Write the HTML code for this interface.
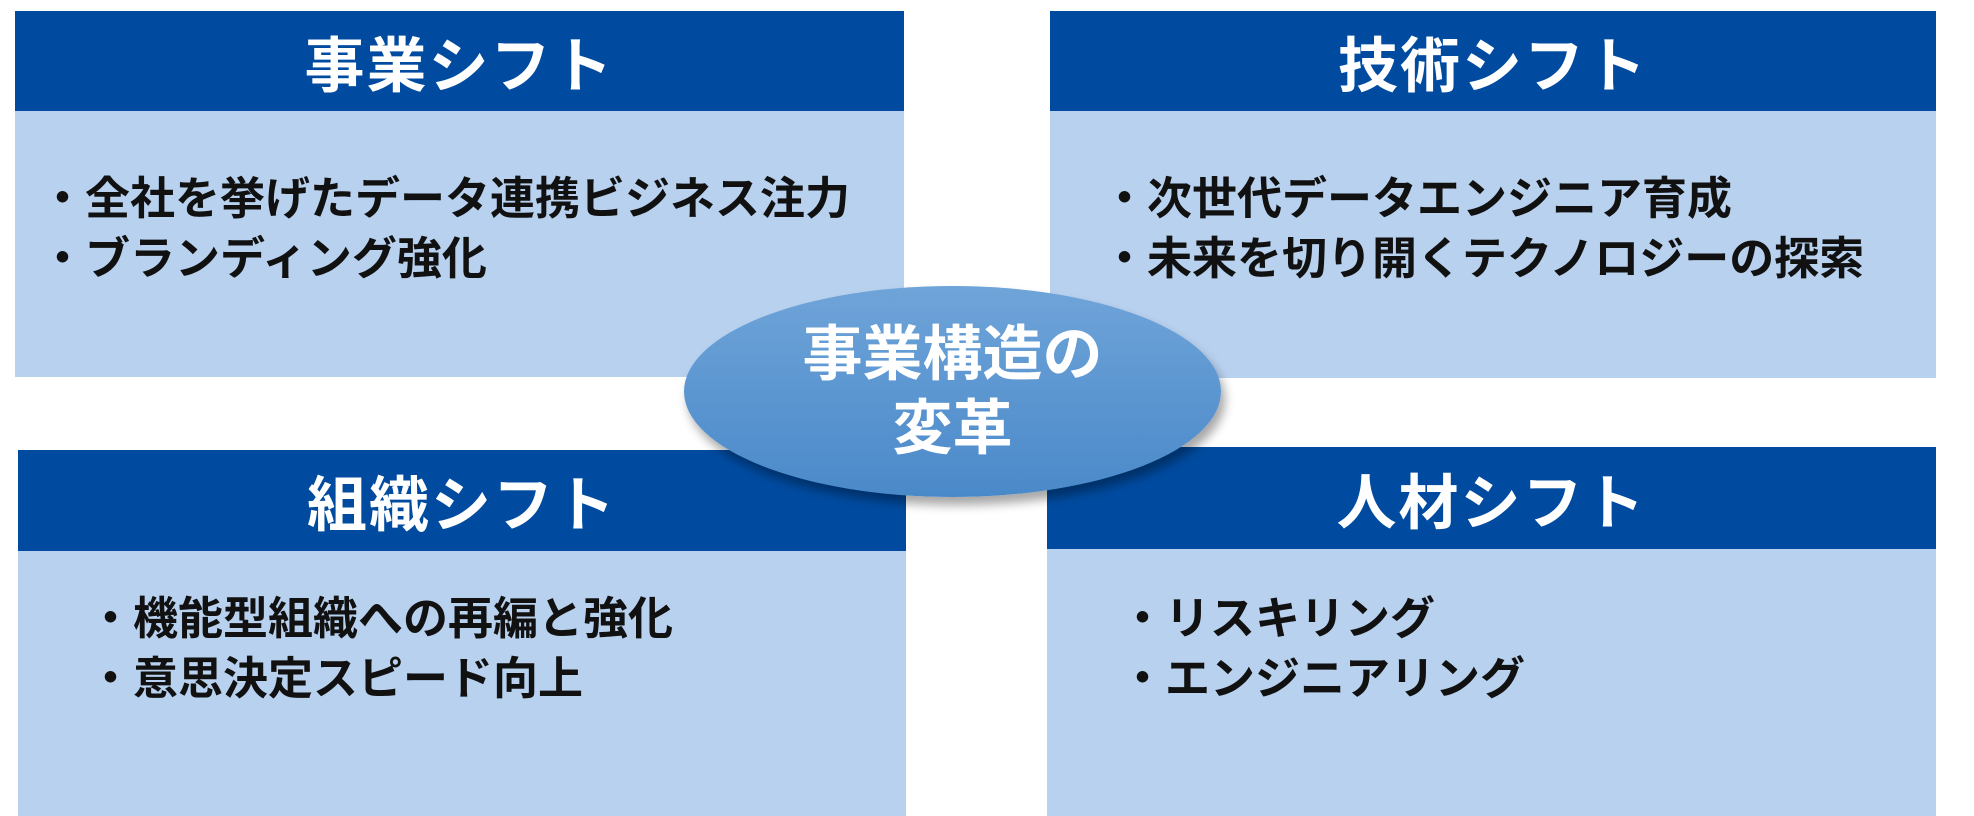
<!DOCTYPE html>
<html><head><meta charset="utf-8"><style>
html,body{margin:0;padding:0;background:#fff;}
body{width:1974px;height:816px;position:relative;overflow:hidden;font-family:"Liberation Sans","Noto Sans CJK JP",sans-serif;}
.hd{position:absolute;background:#004ba0;color:#fff;font-weight:bold;font-size:60px;text-align:center;display:flex;align-items:center;justify-content:center;letter-spacing:2px;}
.bd{position:absolute;background:#b8d1ef;}
.t{position:absolute;font-weight:bold;font-size:45px;color:#111;white-space:nowrap;line-height:60px;}
.el{position:absolute;left:684px;top:286px;width:537px;height:211px;border-radius:50%;background:linear-gradient(#6fa4d9,#4a89c9);box-shadow:4px 8px 10px rgba(0,0,0,0.35);color:#fff;font-weight:bold;font-size:60px;text-align:center;line-height:74px;display:flex;flex-direction:column;justify-content:center;}
</style></head><body>
<div class="bd" style="left:15px;top:111px;width:889px;height:266px"></div>
<div class="hd" style="left:15px;top:11px;width:889px;height:100px">事業シフト</div>
<div class="bd" style="left:1050px;top:111px;width:886px;height:267px"></div>
<div class="hd" style="left:1050px;top:11px;width:886px;height:100px">技術シフト</div>
<div class="bd" style="left:18px;top:551px;width:888px;height:265px"></div>
<div class="hd" style="left:18px;top:450px;width:888px;height:101px">組織シフト</div>
<div class="bd" style="left:1047px;top:549px;width:889px;height:267px"></div>
<div class="hd" style="left:1047px;top:447px;width:889px;height:102px">人材シフト</div>
<div class="t" style="left:40px;top:169px">・全社を挙げたデータ連携ビジネス注力<br>・ブランディング強化</div>
<div class="t" style="left:1102px;top:169px">・次世代データエンジニア育成<br>・未来を切り開くテクノロジーの探索</div>
<div class="t" style="left:88px;top:589px">・機能型組織への再編と強化<br>・意思決定スピード向上</div>
<div class="t" style="left:1120px;top:589px">・リスキリング<br>・エンジニアリング</div>
<div class="el"><div>事業構造の</div><div>変革</div></div>
</body></html>
